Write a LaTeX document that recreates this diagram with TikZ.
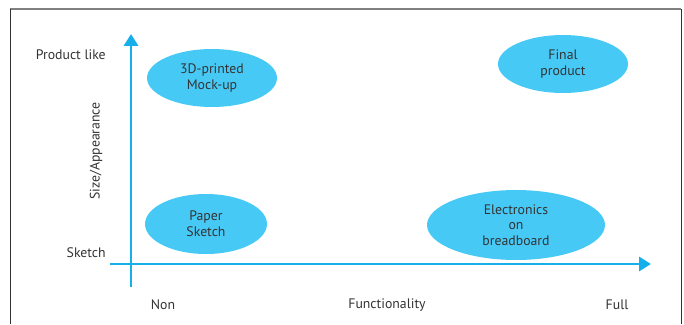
\documentclass[tikz,border=0pt]{standalone}
\usepackage{fontspec}
\setmainfont{PT Sans}
\usepackage{xcolor}
\usetikzlibrary{shapes.geometric,arrows.meta}
\definecolor{axisblue}{HTML}{16AFEA}
\definecolor{blobblue}{HTML}{47C9F6}
\definecolor{textgray}{HTML}{333333}
\tikzset{
  blob/.style={ellipse, fill=blobblue, inner sep=0pt, align=center, text=textgray, font=\fontsize{9.8}{11.2}\selectfont},
  axis/.style={draw=axisblue, line width=2.1pt, -{Triangle[length=8.5pt,width=10pt]}},
  lbl/.style={text=textgray, font=\fontsize{9.8}{11.2}\selectfont, inner sep=0pt}
}
\begin{document}
\begin{tikzpicture}[x=0.025cm, y=-0.025cm]
    \useasboundingbox (0,0) rectangle (684,324);
    % Frame
    \draw[gray, line width=0.9pt] (10,9) -- (681,9);
    \draw[black!80, line width=0.5pt] (10,9) -- (10,324);
    \draw[black!80, line width=0.5pt] (681,9) -- (681,324);

    % Axes
    \coordinate (ybot) at (131,287);
    \coordinate (ytop) at (131,34);
    \coordinate (xleft) at (110,264);
    \coordinate (xright) at (651,264);
    \draw[axis] (ybot) -- (ytop);
    \draw[axis] (xleft) -- (xright);

    % Axis labels
    \node[lbl, anchor=east] (prodlike) at (106,55) {Product like};
    \node[lbl, anchor=east] (sketch) at (106,253) {Sketch};
    \node[lbl, rotate=90] (sizeapp) at (96,151) {Size/Appearance};
    \node[lbl] (non) at (163,305) {Non};
    \node[lbl] (func) at (387,305) {Functionality};
    \node[lbl] (full) at (617,305) {Full};

    % Prototypes
    \node[blob, minimum width=130*0.711pt, minimum height=58*0.711pt] (mockup) at (212,78) {3D-printed\\Mock-up};
    \node[blob, minimum width=130*0.711pt, minimum height=58*0.711pt] (final) at (563,64) {Final\\product};
    \node[blob, minimum width=122*0.711pt, minimum height=60*0.711pt] (paper) at (206,224) {Paper\\Sketch};
    \node[blob, minimum width=178*0.711pt, minimum height=70*0.711pt] (breadboard) at (516,225) {Electronics\\on\\breadboard};
\end{tikzpicture}
\end{document}
